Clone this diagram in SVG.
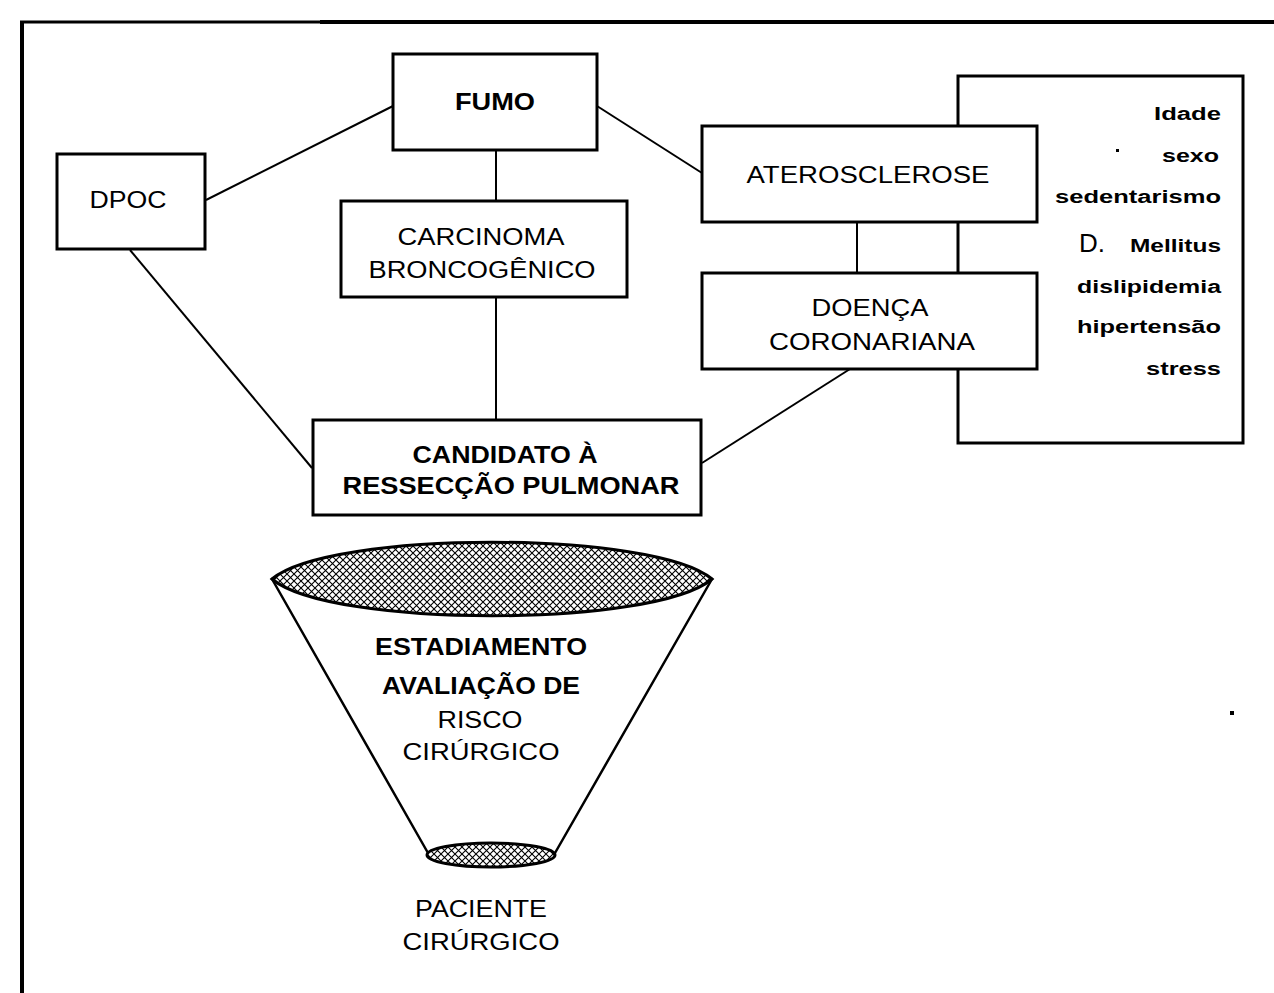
<svg xmlns="http://www.w3.org/2000/svg" width="1274" height="993" viewBox="0 0 1274 993">
<style>
.box{fill:#fff;stroke:#000;stroke-width:3}
.ln{fill:none;stroke:#000;stroke-width:2}
.t{font-family:"Liberation Sans",Arial,sans-serif;font-size:23px;fill:#000;text-anchor:middle}
.b{font-weight:bold}
.r{font-family:"Liberation Sans",Arial,sans-serif;font-size:18px;font-weight:bold;fill:#000;text-anchor:end}
</style>
<defs>
<pattern id="hatch" width="7" height="7" patternUnits="userSpaceOnUse">
<rect width="7" height="7" fill="#fff"/>
<path d="M0,0 L7,7 M7,0 L0,7" stroke="#000" stroke-width="1.1"/>
</pattern>
</defs>
<rect width="1274" height="993" fill="#fff"/>
<g id="frame">
<line x1="22" y1="22" x2="22" y2="993" stroke="#000" stroke-width="4"/>
<line x1="20" y1="22" x2="320" y2="22" stroke="#000" stroke-width="3"/>
<line x1="320" y1="22" x2="1274" y2="22" stroke="#000" stroke-width="4"/>
</g>
<g id="connectors">
<line class="ln" x1="393" y1="106" x2="206" y2="200"/>
<line class="ln" x1="496" y1="150" x2="496" y2="201"/>
<line class="ln" x1="597" y1="106" x2="702" y2="173"/>
<line class="ln" x1="130" y1="250" x2="312" y2="468"/>
<line class="ln" x1="496" y1="297" x2="496" y2="419"/>
<line class="ln" x1="857" y1="222" x2="857" y2="273"/>
<line class="ln" x1="850" y1="369" x2="702" y2="463"/>
</g>
<g id="factors">
<rect class="box" x="958" y="76" width="285" height="367"/>
<text class="r" x="1221" y="120" textLength="67" lengthAdjust="spacingAndGlyphs">Idade</text>
<rect x="1116" y="149" width="3" height="3" fill="#000"/>
<text class="r" x="1219" y="162" textLength="57" lengthAdjust="spacingAndGlyphs">sexo</text>
<text class="r" x="1221" y="203" textLength="166" lengthAdjust="spacingAndGlyphs">sedentarismo</text>
<text class="r" x="1221" y="252"><tspan x="1079" style="font-size:26px;font-weight:normal;text-anchor:start">D.</tspan><tspan x="1221" textLength="91" lengthAdjust="spacingAndGlyphs">Mellitus</tspan></text>
<text class="r" x="1221" y="293" textLength="144" lengthAdjust="spacingAndGlyphs">dislipidemia</text>
<text class="r" x="1221" y="333" textLength="144" lengthAdjust="spacingAndGlyphs">hipertensão</text>
<text class="r" x="1221" y="375" textLength="75" lengthAdjust="spacingAndGlyphs">stress</text>
</g>
<g id="fumo">
<rect class="box" x="393" y="54" width="204" height="96"/>
<text class="t b" x="495" y="110" textLength="80" lengthAdjust="spacingAndGlyphs">FUMO</text>
</g>
<g id="dpoc">
<rect class="box" x="57" y="154" width="148" height="95"/>
<text class="t" x="128" y="208" textLength="77" lengthAdjust="spacingAndGlyphs">DPOC</text>
</g>
<g id="carcinoma">
<rect class="box" x="341" y="201" width="286" height="96"/>
<text class="t" x="481" y="245" textLength="167" lengthAdjust="spacingAndGlyphs">CARCINOMA</text>
<text class="t" x="482" y="278" textLength="227" lengthAdjust="spacingAndGlyphs">BRONCOGÊNICO</text>
</g>
<g id="aterosclerose">
<rect class="box" x="702" y="126" width="335" height="96"/>
<text class="t" x="868" y="183" textLength="243" lengthAdjust="spacingAndGlyphs">ATEROSCLEROSE</text>
</g>
<g id="doenca">
<rect class="box" x="702" y="273" width="335" height="96"/>
<text class="t" x="870" y="316" textLength="117" lengthAdjust="spacingAndGlyphs">DOENÇA</text>
<text class="t" x="872" y="350" textLength="206" lengthAdjust="spacingAndGlyphs">CORONARIANA</text>
</g>
<g id="candidato">
<rect class="box" x="313" y="420" width="388" height="95"/>
<text class="t b" x="505" y="463" textLength="185" lengthAdjust="spacingAndGlyphs">CANDIDATO À</text>
<text class="t b" x="511" y="494" textLength="337" lengthAdjust="spacingAndGlyphs">RESSECÇÃO PULMONAR</text>
</g>
<g id="funnel">
<path d="M272,579 L428,853 L555,853 L712,579 Z" fill="#fff" stroke="#000" stroke-width="2.5" stroke-linejoin="round"/>
<path d="M272,579 C330,530 654,530 712,579 C654,628 330,628 272,579 Z" fill="url(#hatch)" stroke="#000" stroke-width="3"/>
<ellipse cx="491" cy="855" rx="64" ry="12" fill="url(#hatch)" stroke="#000" stroke-width="3"/>
<text class="t b" x="481" y="655" textLength="212" lengthAdjust="spacingAndGlyphs">ESTADIAMENTO</text>
<text class="t b" x="481" y="694" textLength="198" lengthAdjust="spacingAndGlyphs">AVALIAÇÃO DE</text>
<text class="t" x="480" y="728" textLength="85" lengthAdjust="spacingAndGlyphs">RISCO</text>
<text class="t" x="481" y="760" textLength="157" lengthAdjust="spacingAndGlyphs">CIRÚRGICO</text>
</g>
<g id="paciente">
<text class="t" x="481" y="917" textLength="132" lengthAdjust="spacingAndGlyphs">PACIENTE</text>
<text class="t" x="481" y="950" textLength="157" lengthAdjust="spacingAndGlyphs">CIRÚRGICO</text>
</g>
<rect x="1230" y="711" width="4" height="4" fill="#000"/>
</svg>
